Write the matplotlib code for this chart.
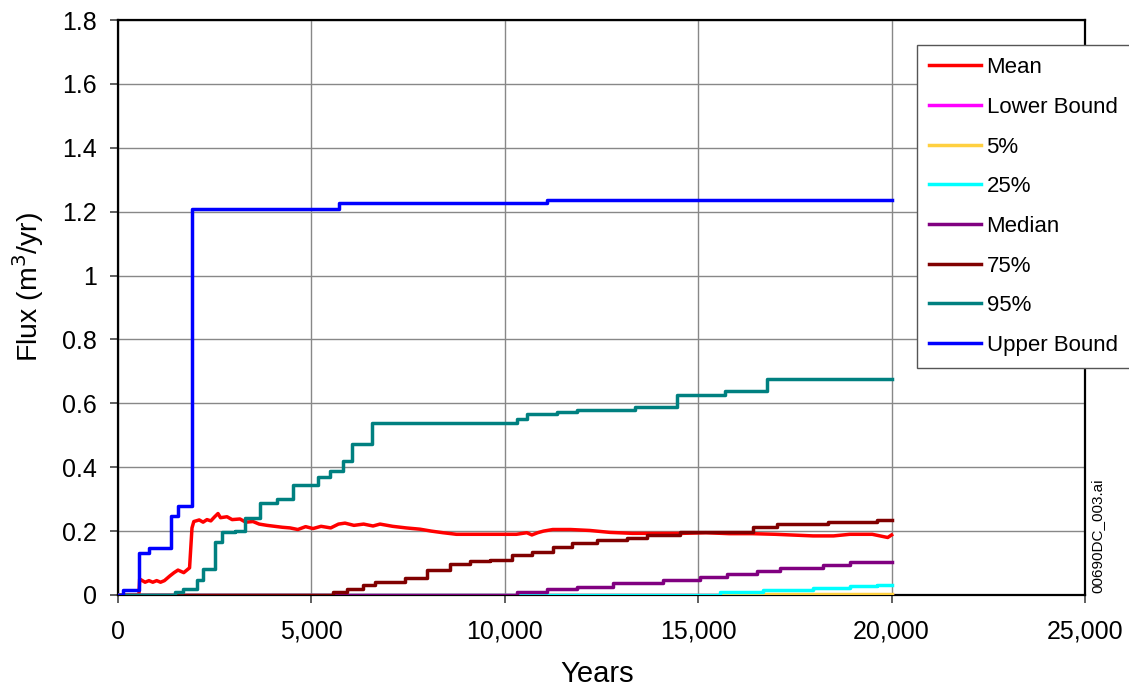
import matplotlib
matplotlib.use("Agg")
import matplotlib.pyplot as plt
from matplotlib.ticker import FuncFormatter

plt.rcParams['font.family'] = ['Liberation Sans', 'DejaVu Sans']

# ---- data (years, flux m3/yr) ----
upper_x = [0, 130, 540, 800, 1370, 1550, 1910, 5710, 11100, 20000]
upper_y = [0, 0.015, 0.13, 0.147, 0.247, 0.28, 1.208, 1.227, 1.235, 1.235]

p95_x = [0, 1475, 1680, 2040, 2200, 2510, 2690, 3025, 3280, 3670, 4110, 4520,
         5170, 5480, 5820, 6050, 6570, 10310, 10570, 11350, 11870, 13370,
         14450, 15690, 16780, 20000]
p95_y = [0, 0.008, 0.02, 0.047, 0.08, 0.166, 0.197, 0.2, 0.24, 0.287, 0.30, 0.345,
         0.37, 0.388, 0.42, 0.472, 0.54, 0.552, 0.566, 0.572, 0.578, 0.59,
         0.625, 0.64, 0.677, 0.677]

p75_x = [0, 5560, 5920, 6330, 6650, 7420, 7990, 8580, 9100, 9620, 10190, 10700,
         11240, 11740, 12380, 13160, 13680, 14530, 16420, 17040, 18360, 19620, 20000]
p75_y = [0, 0.008, 0.02, 0.03, 0.04, 0.053, 0.078, 0.098, 0.105, 0.11, 0.125, 0.135,
         0.15, 0.163, 0.173, 0.18, 0.188, 0.196, 0.212, 0.223, 0.228, 0.236, 0.236]

med_x = [0, 10310, 11090, 11870, 12800, 14090, 15050, 15740, 16520, 17110, 18230,
         18930, 20000]
med_y = [0, 0.008, 0.02, 0.026, 0.038, 0.046, 0.055, 0.066, 0.076, 0.083, 0.093,
         0.102, 0.102]

p25_x = [0, 15560, 16680, 17970, 18930, 19620, 20000]
p25_y = [0, 0.01, 0.016, 0.022, 0.027, 0.032, 0.032]

p5_x = [0, 15560, 20000]
p5_y = [0, 0.002, 0.003]

lower_x = [0, 20000]
lower_y = [0, 0]

mean_x = [0, 540, 560, 700, 800, 900, 1000, 1100, 1200, 1344, 1450, 1551, 1700, 1850,
          1913, 1960, 2100, 2200, 2300, 2400, 2500, 2585, 2650, 2818, 2950, 3154,
          3300, 3490, 3650, 3852, 4050, 4250, 4447, 4650, 4850, 5041, 5250, 5500,
          5700, 5869, 6100, 6350, 6593, 6774, 7100, 7450, 7808, 8100, 8402, 8750,
          9100, 9500, 9900, 10300, 10570, 10700, 10850, 11000, 11240, 11700,
          12200, 12720, 13300, 14000, 14600, 15200, 15800, 16400, 17000, 17970,
          18500, 18920, 19500, 19900, 20000]
mean_y = [0, 0.0, 0.05, 0.04, 0.045, 0.04, 0.045, 0.04, 0.045, 0.06, 0.07, 0.078, 0.07,
          0.085, 0.21, 0.23, 0.235, 0.228, 0.236, 0.232, 0.245, 0.255, 0.242, 0.245,
          0.236, 0.238, 0.228, 0.23, 0.222, 0.218, 0.215, 0.212, 0.21, 0.205,
          0.214, 0.208, 0.215, 0.21, 0.222, 0.225, 0.218, 0.222, 0.216, 0.222,
          0.215, 0.21, 0.206, 0.2, 0.195, 0.19, 0.19, 0.19, 0.19, 0.19, 0.195,
          0.188, 0.195, 0.2, 0.205, 0.205, 0.202, 0.196, 0.193, 0.193, 0.193,
          0.195, 0.192, 0.192, 0.19, 0.185, 0.185, 0.19, 0.19, 0.18, 0.188]

series = [
    ("Mean", mean_x, mean_y, "#FF0000", None),
    ("Lower Bound", lower_x, lower_y, "#FF00FF", "steps-post"),
    ("5%", p5_x, p5_y, "#FFD040", "steps-post"),
    ("25%", p25_x, p25_y, "#00FFFF", "steps-post"),
    ("Median", med_x, med_y, "#800080", "steps-post"),
    ("75%", p75_x, p75_y, "#800000", "steps-post"),
    ("95%", p95_x, p95_y, "#008080", "steps-post"),
    ("Upper Bound", upper_x, upper_y, "#0000FF", "steps-post"),
]

W, H = 1129, 689
fig = plt.figure(figsize=(W/100, H/100), dpi=100)
ax = fig.add_axes([118/W, 1-595/H, (1085-118)/W, (595-20)/H])

for i, (lab, xs, ys, col, ds) in enumerate(series):
    kw = {}
    if ds:
        kw['drawstyle'] = ds
    ax.plot(xs, ys, color=col, lw=2.5, label=lab, zorder=3+i, **kw)

ax.set_xlim(0, 25000)
ax.set_ylim(0, 1.8)
ax.set_xticks(range(0, 25001, 5000))
ax.set_yticks([i*0.2 for i in range(10)])
ax.xaxis.set_major_formatter(FuncFormatter(lambda v, p: f"{int(v):,}"))
ax.yaxis.set_major_formatter(FuncFormatter(lambda v, p: f"{v:g}"))
ax.grid(True, color="#888888", lw=1.0, zorder=0)
ax.set_axisbelow(True)
for s in ax.spines.values():
    s.set_linewidth(1.6)
    s.set_color("black")
ax.tick_params(axis='both', labelsize=18, length=6, width=1.2, direction='out',
               color="#444444")
ax.tick_params(axis='x', pad=12)
ax.tick_params(axis='y', pad=9)

fig.text(597/W, 1-674/H, "Years", fontsize=21, ha='center', va='center')
fig.text(28/W, 1-287/H, "Flux (m$^3$/yr)", fontsize=20.5, ha='center', va='center',
         rotation=90)

leg = fig.legend(loc='upper left', bbox_to_anchor=(917/W, 1-45/H),
                 bbox_transform=fig.transFigure, fontsize=16, frameon=True,
                 fancybox=False, edgecolor="#555555", framealpha=1,
                 handlelength=2.35, handletextpad=0.23, labelspacing=0.84,
                 borderpad=0.55, borderaxespad=0)
leg.get_frame().set_linewidth(1.0)
for h in leg.get_lines():
    h.set_linewidth(2.5)

fig.text(1097/W, 1-536/H, "00690DC_003.ai", rotation=90, fontsize=11,
         ha='center', va='center')

fig.savefig("out.png", dpi=100)
